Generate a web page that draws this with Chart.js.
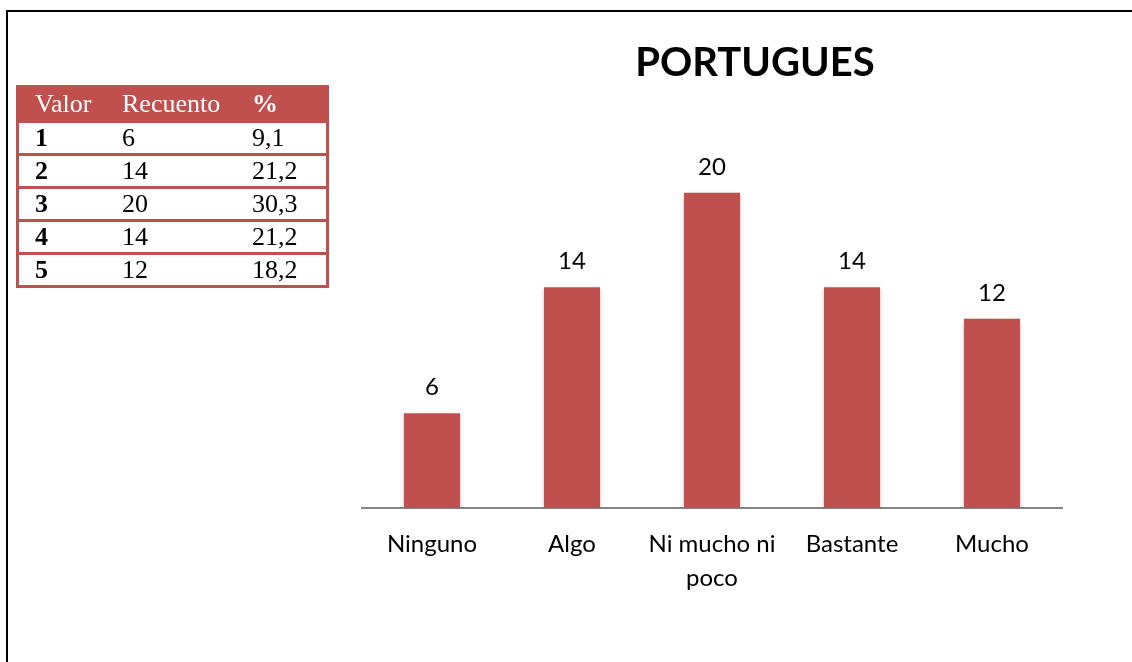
<!DOCTYPE html>
<html>
<head>
<meta charset="utf-8">
<script src="https://cdn.jsdelivr.net/npm/chart.js@4"></script>
<style>
    html, body { margin: 0; padding: 0; background: #fff; }
    body { width: 1132px; height: 662px; position: relative; overflow: hidden; }
    #frame { position: absolute; left: 6px; top: 10px; width: 1140px; height: 700px;
             border-left: 2px solid #000; border-top: 2px solid #000; }
    #chart-wrap { position: absolute; left: 0; top: 0; width: 1132px; height: 662px; }
    #counts { position: absolute; left: 16px; top: 85px; border-collapse: collapse;
              font-family: "Liberation Serif", "Times New Roman", serif; font-size: 26px; line-height: 1; }
    #counts td, #counts th { padding: 0; text-align: left; font-weight: normal; }
    #counts thead tr { background: #C0504D; color: #fff; height: 35px; border: 3px solid #C0504D; }
    #counts tbody tr { height: 33px; border: 3px solid #C0504D; }
    #counts .c1 { width: 87px; padding-left: 16px; }
    #counts .c2 { width: 130px; }
    #counts .c3 { width: 74px; }
    #counts .b { font-weight: bold; }
</style>
</head>
<body>
<div id="frame"></div>
<div id="chart-wrap"><canvas id="portugues-chart" width="1132" height="662"></canvas></div>
<table id="counts">
    <thead><tr><th class="c1">Valor</th><th class="c2">Recuento</th><th class="c3 b">%</th></tr></thead>
    <tbody id="counts-body"></tbody>
</table>
<script>
const categories = ['Ninguno', 'Algo', ['Ni mucho ni', 'poco'], 'Bastante', 'Mucho'];
const counts = [6, 14, 20, 14, 12];
const valores = [1, 2, 3, 4, 5];
const percents = ['9,1', '21,2', '30,3', '21,2', '18,2'];
const chartTitle = 'PORTUGUES';
const barColor = '#C0504D';

// table at top-left
const tbody = document.getElementById('counts-body');
valores.forEach((v, i) => {
    const tr = document.createElement('tr');
    tr.innerHTML = '<td class="c1 b">' + v + '</td><td class="c2">' + counts[i] + '</td><td class="c3">' + percents[i] + '</td>';
    tbody.appendChild(tr);
});

// value labels above the bars
const valueLabels = {
    id: 'valueLabels',
    afterDatasetsDraw: (chart) => {
        const ctx = chart.ctx;
        const meta = chart.getDatasetMeta(0);
        ctx.save();
        ctx.font = '24px Lato';
        ctx.fillStyle = '#000';
        ctx.textAlign = 'center';
        ctx.textBaseline = 'middle';
        meta.data.forEach((bar, i) => {
            ctx.fillText(counts[i], bar.x, bar.y - 26);
        });
        ctx.restore();
    }
};

// title sits a bit right of the plot centre in the original
const offsetTitle = {
    id: 'offsetTitle',
    afterDraw: (chart) => {
        const ctx = chart.ctx;
        ctx.save();
        ctx.font = 'bold 40px Lato';
        ctx.fillStyle = '#000';
        ctx.textAlign = 'center';
        ctx.textBaseline = 'middle';
        ctx.fillText(chartTitle, 755, 63);
        ctx.restore();
    }
};

const barShadow = {
    id: 'barShadow',
    beforeDatasetsDraw: (chart) => {
        chart.ctx.save();
        chart.ctx.shadowColor = 'rgba(0,0,0,0.25)';
        chart.ctx.shadowBlur = 4;
        chart.ctx.shadowOffsetY = 2;
    },
    afterDatasetsDraw: (chart) => { chart.ctx.restore(); }
};

const config = {
    type: 'bar',
    data: {
        labels: categories,
        datasets: [{
            label: chartTitle,
            data: counts,
            backgroundColor: barColor,
            borderWidth: 0,
            categoryPercentage: 1,
            barPercentage: 0.4
        }]
    },
    options: {
        responsive: false,
        animation: false,
        layout: { padding: { left: 362, right: 70, top: 114, bottom: 48 } },
        plugins: {
            legend: { display: false },
            title: { display: false },
            tooltip: { enabled: false }
        },
        scales: {
            x: {
                grid: { display: false, drawTicks: false },
                border: { display: true, color: '#868686', width: 2 },
                ticks: {
                    color: '#000',
                    padding: 19,
                    maxRotation: 0,
                    autoSkip: false,
                    font: { family: 'Lato', size: 24, lineHeight: 1.42 }
                }
            },
            y: {
                display: false,
                min: 0,
                max: 25
            }
        }
    },
    plugins: [barShadow, valueLabels, offsetTitle]
};

const portuguesChart = new Chart(document.getElementById('portugues-chart'), config);
</script>
</body>
</html>
